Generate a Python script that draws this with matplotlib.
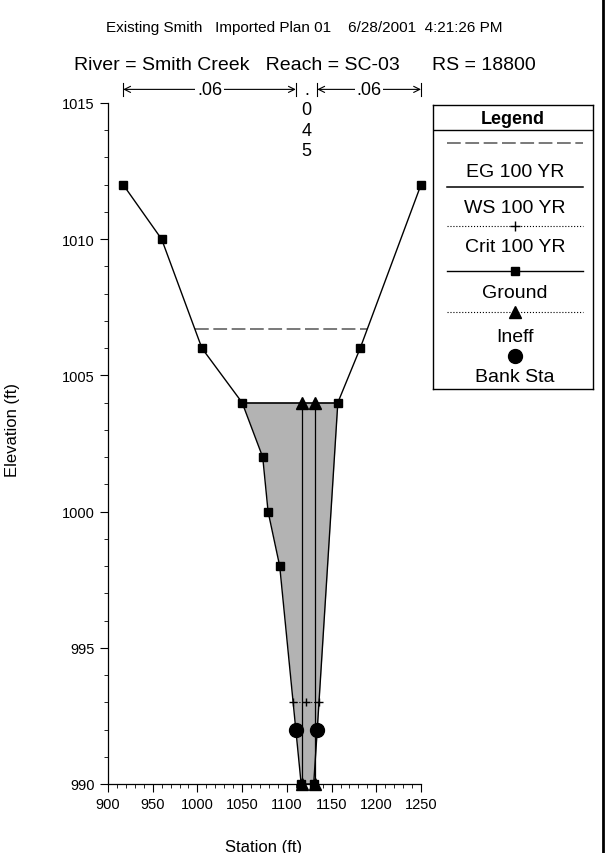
import numpy as np
import matplotlib.pyplot as plt
from matplotlib.lines import Line2D

plt.rcParams['font.family'] = ['Liberation Sans', 'DejaVu Sans']

# ground points of the cross section
station = [917, 960, 1005, 1050, 1073, 1079, 1092, 1110, 1116, 1130, 1134, 1157, 1182, 1250]
elev = [1012, 1010, 1006, 1004, 1002, 1000, 998, 992, 990, 990, 992, 1004, 1006, 1012]

bank_sta = [1110, 1134]
bank_elev = [992, 992]

ineff_sta = [1117, 1131]
ineff_elev = 1004.0

ws_elev = 1004.0
eg_elev = 1006.7
crit_elev = 993.0

n_left, n_chan, n_right = '.06', '.045', '.06'

legend_labels = ['EG 100 YR', 'WS 100 YR', 'Crit 100 YR', 'Ground', 'Ineff', 'Bank Sta']

st = np.array(station, float)
el = np.array(elev, float)
i_lo = int(np.argmin(el))
i_hi = len(el) - 1 - int(np.argmin(el[::-1]))


def crossing(level):
    # where the water level meets the ground on both sides
    left = np.interp(level, el[:i_lo + 1][::-1], st[:i_lo + 1][::-1])
    right = np.interp(level, el[i_hi:], st[i_hi:])
    return left, right


fig = plt.figure(figsize=(6.09, 8.54), dpi=100)
W, H = 609, 854
ax = fig.add_axes([108 / W, 1 - 785 / H, (421 - 108) / W, (785 - 104) / H])

# water area
wl, wr = crossing(ws_elev)
xs = np.concatenate([[wl], st[(st > wl) & (st < wr)], [wr]])
ax.fill_between(xs, np.interp(xs, st, el), ws_elev, color='#b3b3b3', lw=0, zorder=1)
ax.plot([wl, wr], [ws_elev, ws_elev], color='black', lw=1.2, zorder=3)

# energy grade
el_, er_ = crossing(eg_elev)
ax.plot([el_, er_], [eg_elev, eg_elev], color='#555555', lw=1.1, dashes=(9, 3), zorder=3)

# critical depth
cl, cr = crossing(crit_elev)
ax.plot([cl, (cl + cr) / 2, cr], [crit_elev] * 3, color='black', lw=0.8, ls=':',
        marker='+', ms=6, zorder=3)

# ineffective flow lines, dropped to the channel invert
invert = el.min()
for s in ineff_sta:
    ax.plot([s, s], [ineff_elev, invert], color='black', lw=0.9, zorder=3)
ax.plot(ineff_sta, [ineff_elev] * 2, '^', color='black', ms=8, zorder=6)
ax.plot(ineff_sta, [invert] * 2, '^', color='black', ms=8, zorder=6, clip_on=False)

# ground
ax.plot(st, el, color='black', lw=1, marker='s', ms=5.5, zorder=5, clip_on=False)
ax.plot(bank_sta, bank_elev, 'o', color='black', ms=10, zorder=7)

ax.set_xlim(900, 1250)
ax.set_ylim(990, 1015)
ax.set_xticks(np.arange(900, 1251, 50))
ax.set_xticks(np.arange(900, 1251, 10), minor=True)
ax.set_yticks(np.arange(990, 1016, 5))
ax.set_yticks(np.arange(990, 1016, 1), minor=True)
ax.tick_params(which='major', direction='out', length=6, width=0.8, labelsize=10.5)
ax.tick_params(which='minor', direction='out', length=3, width=0.6)
for side in ['top', 'right']:
    ax.spines[side].set_visible(False)
for side in ['left', 'bottom']:
    ax.spines[side].set_linewidth(0.9)

# Manning's n across the top
yn = 1015.5
for a, b, txt in [(station[0], bank_sta[0], n_left), (bank_sta[1], station[-1], n_right)]:
    ax.annotate('', xy=(b, yn), xytext=(a, yn), annotation_clip=False,
                arrowprops=dict(arrowstyle='<->', lw=0.8, shrinkA=0, shrinkB=0,
                                mutation_scale=11))
    ax.plot([a, a], [yn - 0.25, yn + 0.25], color='black', lw=0.8, clip_on=False)
    ax.plot([b, b], [yn - 0.25, yn + 0.25], color='black', lw=0.8, clip_on=False)
    ax.text((a + b) / 2, yn, txt, ha='center', va='center', fontsize=13,
            bbox=dict(facecolor='white', edgecolor='none', pad=1))
mid = (bank_sta[0] + bank_sta[1]) / 2
for k, ch in enumerate(n_chan):
    ax.text(mid, yn - k * 0.75, ch, ha='center', va='center', fontsize=13)

# titles and axis labels
fig.text(0.5, 1 - 28 / H, 'Existing Smith   Imported Plan 01    6/28/2001  4:21:26 PM',
         ha='center', va='center', fontsize=11)
fig.text(0.5, 1 - 65 / H, 'River = Smith Creek   Reach = SC-03      RS = 18800',
         ha='center', va='center', fontsize=14)
fig.text(13 / W, 1 - 430 / H, 'Elevation (ft)', rotation=90, ha='center', va='center',
         fontsize=12)
fig.text(264 / W, 1 - 848 / H, 'Station (ft)', ha='center', va='center', fontsize=12)

# legend box
lax = fig.add_axes([433 / W, 1 - 390 / H, 160 / W, (390 - 106) / H])
lax.set_xlim(433, 593)
lax.set_ylim(390, 106)
lax.set_xticks([])
lax.set_yticks([])
for sp in lax.spines.values():
    sp.set_linewidth(1)
lax.text(513, 119, 'Legend', ha='center', va='center', fontsize=13, weight='bold')
lax.axhline(131, color='black', lw=1)

line_y = [144, 188, 227, 272, 313, 357]
text_y = [172, 208, 247, 293, 337, 377]
styles = [
    dict(color='#555555', lw=1.1, dashes=(9, 3)),
    dict(color='black', lw=1.1),
    dict(color='black', lw=0.8, ls=':', marker='+', markevery=[1], ms=7),
    dict(color='black', lw=1, marker='s', markevery=[1], ms=5.5),
    dict(color='black', lw=0.8, ls=':', marker='^', markevery=[1], ms=9),
    dict(color='black', lw=0, marker='o', markevery=[1], ms=10),
]
for lab, ly, ty, sty in zip(legend_labels, line_y, text_y, styles):
    lax.plot([447, 515, 583], [ly] * 3, **sty)
    lax.text(515, ty, lab, ha='center', va='center', fontsize=14)

# page edge on the right
fig.add_artist(Line2D([603 / W, 603 / W], [0, 1], color='black', lw=2))

fig.savefig('out.png', dpi=100)
